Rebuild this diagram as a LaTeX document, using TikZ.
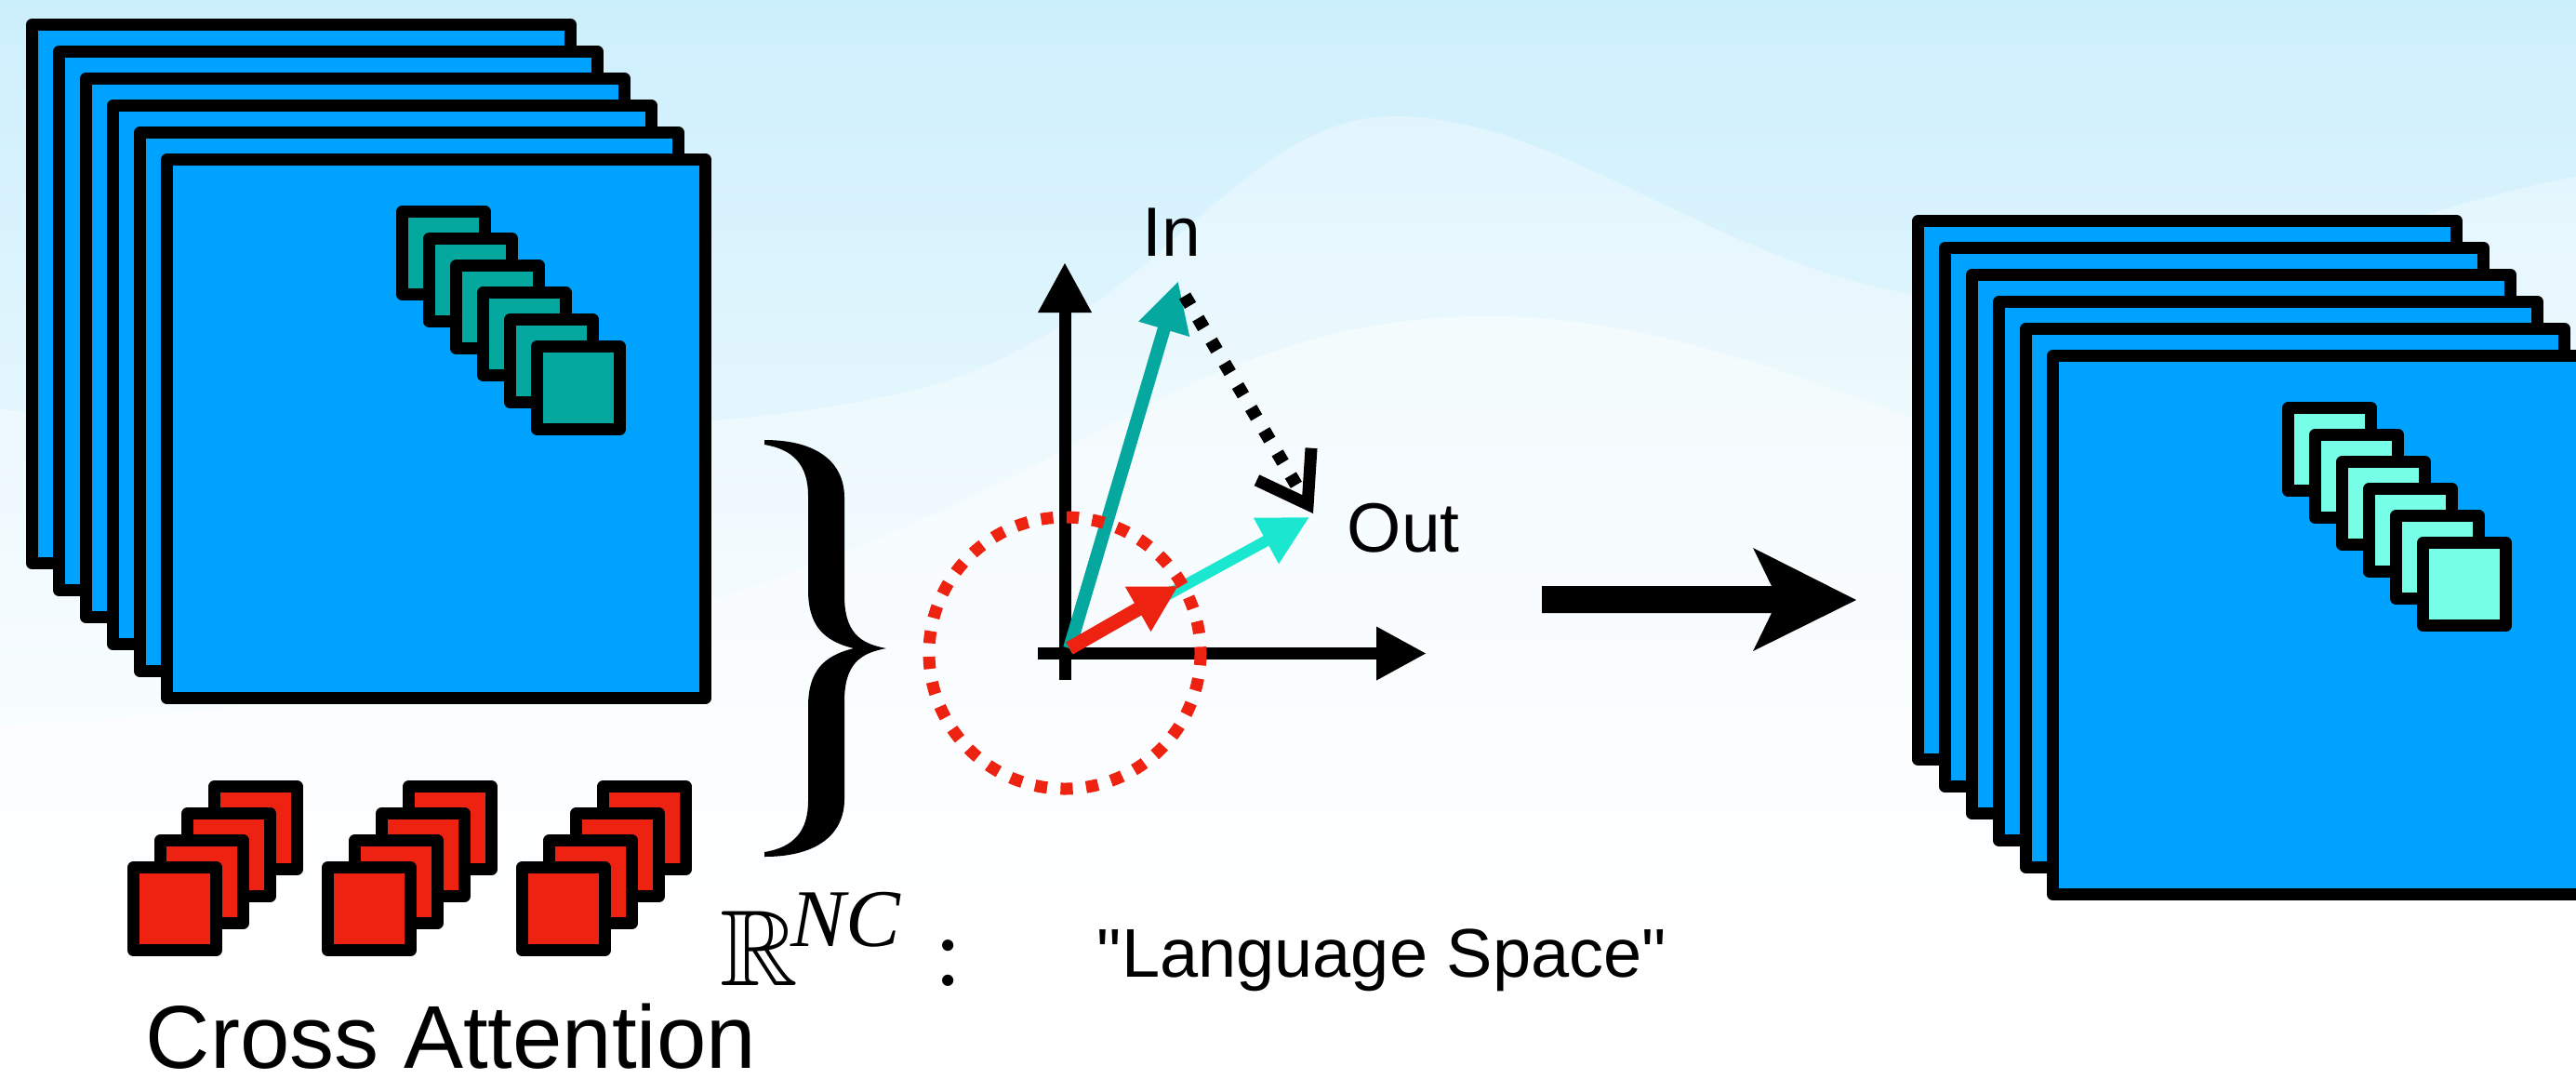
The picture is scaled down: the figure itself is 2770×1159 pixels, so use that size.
\documentclass[tikz,border=0pt]{standalone}
\usepackage{fontspec}
\usepackage{amssymb}
\usepackage{graphicx}
\newfontfamily\arialf{Liberation Sans}
\newfontfamily\timesf{Liberation Serif}
\usetikzlibrary{arrows.meta}
\definecolor{fblue}{RGB}{0,162,255}
\definecolor{tealsq}{RGB}{4,168,158}
\definecolor{cyansq}{RGB}{118,255,230}
\definecolor{redsq}{RGB}{238,34,17}
\definecolor{cyanar}{RGB}{27,230,208}
\definecolor{bgtop}{RGB}{204,239,252}
\tikzset{
  frame/.style={draw=black, line width=3.25pt, fill=fblue, line join=round},
  smallsq/.style={draw=black, line width=3.25pt, line join=round},
  lab/.style={inner sep=0pt, font=\arialf\fontsize{18.75pt}{22pt}\selectfont},
  axisline/.style={line width=3.25pt, -{Triangle[length=13.5pt,width=13.5pt]}},
}
\begin{document}
\begin{tikzpicture}[x=0.25pt,y=-0.25pt]
\useasboundingbox (0,0) rectangle (2770,1159);
\clip (0,0) rectangle (2770,1159);
% background
\fill[white] (0,0) rectangle (2770,1159);
\shade[top color=bgtop, bottom color=white] (0,0) rectangle (2770,960);
\fill[white, opacity=0.35] (0,440) .. controls (350,470) and (750,480) .. (1000,415)
  .. controls (1250,340) and (1330,125) .. (1500,125)
  .. controls (1680,125) and (1850,290) .. (2080,320)
  .. controls (2350,350) and (2550,230) .. (2770,190)
  -- (2770,1159) -- (0,1159) -- cycle;
\fill[white, opacity=0.45] (0,780) .. controls (500,760) and (900,620) .. (1150,480)
  .. controls (1330,380) and (1450,340) .. (1600,340)
  .. controls (1850,340) and (2050,470) .. (2300,520)
  .. controls (2500,560) and (2650,540) .. (2770,520)
  -- (2770,1159) -- (0,1159) -- cycle;
% left stack
\foreach \i in {0,...,5}
  \draw[frame] (34.5+29*\i,26.5+29*\i) rectangle ++(579,579);
\foreach \j in {0,...,5}
  \draw[smallsq, fill=tealsq] (432.5+29*\j,227.5+29*\j) rectangle ++(89,89);
% right stack
\foreach \i in {0,...,5}
  \draw[frame] (2062.5+29*\i,237.5+29*\i) rectangle ++(579,579);
\foreach \j in {0,...,5}
  \draw[smallsq, fill=cyansq] (2460.5+29*\j,438.5+29*\j) rectangle ++(89,89);
% red squares
\foreach \g in {0,1,2}
  \foreach \k in {0,...,3}
    \draw[smallsq, fill=redsq] (230.5+209*\g-29*\k,845.5+29*\k) rectangle ++(89,89);
% brace
\fill (822,473) .. controls (880,473) and (908,498) .. (908,535) -- (908,640)
  .. controls (908,680) and (925,692) .. (953,697)
  .. controls (925,702) and (908,714) .. (908,754) -- (908,859)
  .. controls (908,896) and (880,921) .. (822,921) -- (822,916)
  .. controls (853,911) and (869,894) .. (869,861) -- (869,760)
  .. controls (869,722) and (885,705) .. (918,697)
  .. controls (885,689) and (869,672) .. (869,634) -- (869,533)
  .. controls (869,500) and (853,483) .. (822,478) -- cycle;
% axes
\coordinate (xl) at (1116,702.5);
\coordinate (xr) at (1534,702.5);
\coordinate (yb) at (1145,731);
\coordinate (yt) at (1145,282);
\coordinate (O) at (1150,697);
\coordinate (intip) at (1267,302);
\coordinate (outtip) at (1408,556);
\coordinate (redtip) at (1267,630);
\coordinate (dots) at (1274,318);
\coordinate (dote) at (1412,552);
\draw[axisline] (xl) -- (xr);
\draw[axisline] (yb) -- (yt);
\draw[tealsq, line width=3.5pt, -{Triangle[length=13.5pt,width=13.25pt]}] (O) -- (intip);
\draw[cyanar, line width=3pt, -{Triangle[length=13.25pt,width=13.25pt]}] (O) -- (outtip);
\draw[redsq, line width=3.75pt, -{Triangle[length=12.5pt,width=13pt]}] (O) -- (redtip);
\draw[black, line width=3.5pt, dash pattern=on 3pt off 4pt, -{Straight Barb[length=12.5pt,width=17pt,line width=3.25pt]}] (dots) -- (dote);
\draw[redsq, line width=3.25pt, dash pattern=on 3.3pt off 3.6pt] (1145,702) circle [radius=146];
% big arrow
\fill (1658,630) -- (1905,630) -- (1885,589) -- (1996,645) -- (1885,700) -- (1905,659) -- (1658,659) -- cycle;
% labels
\node[lab, anchor=base west] (inlab) at (1228,275) {In};
\node[lab, anchor=base west] (outlab) at (1448,593) {Out};
\node[lab, anchor=base west, font=\arialf\fontsize{18.5pt}{22pt}\selectfont] (lang) at (1179,1050) {"Language Space"};
\node[lab, anchor=base west, text depth=0pt, font=\arialf\fontsize{24pt}{28pt}\selectfont] (cross) at (156,1148) {Cross Attention};
\node[inner sep=0pt, anchor=base west] (rr) at (774,1059) {\scalebox{2.9}{$\mathbb{R}$}};
\node[inner sep=0pt, anchor=base west, font=\timesf\itshape\fontsize{22pt}{24pt}\selectfont] (nc) at (850,1017) {NC};
\node[inner sep=0pt, anchor=base] (colon) at (1020,1060) {\scalebox{2.9}{:}};
\end{tikzpicture}
\end{document}
